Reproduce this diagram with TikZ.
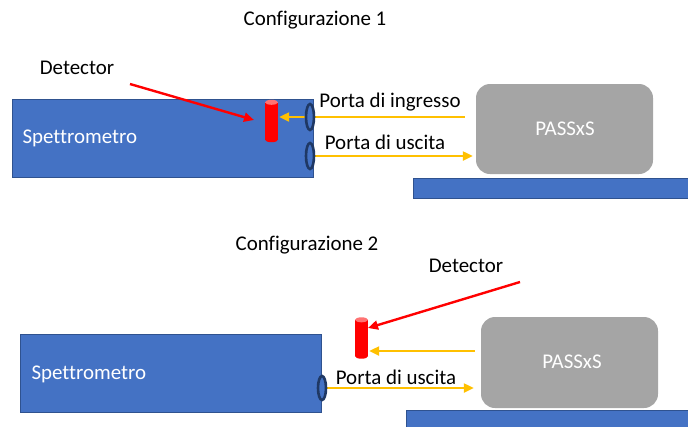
\documentclass[tikz,border=0pt]{standalone}
\usepackage{fontspec}
\setmainfont{Carlito}[Ligatures=NoCommon]
\usepackage{tikz}
\usetikzlibrary{arrows.meta, positioning, shapes.geometric}
\definecolor{specBlue}{HTML}{4472C4}
\definecolor{edgeBlue}{HTML}{2F528F}
\definecolor{portNavy}{HTML}{1F3864}
\definecolor{beamGold}{HTML}{FFC000}
\definecolor{boxGray}{HTML}{A5A5A5}
\definecolor{detRed}{HTML}{FF0000}

\tikzset{
  specbox/.style={draw=edgeBlue, fill=specBlue, inner sep=0, line width=0.8bp},
  passbox/.style={fill=boxGray, rounded corners=14bp, inner sep=0, text=white},
  detbody/.style={fill=detRed, inner sep=0, minimum width=13bp},
  port/.style={ellipse, draw=portNavy, line width=2.6bp, fill=specBlue, inner sep=0, minimum width=8bp},
  beam/.style={beamGold, line width=2.2bp},
  pointer/.style={detRed, line width=2.4bp},
  lbl/.style={font=\fontsize{21}{24}\selectfont}
}

\begin{document}
\begin{tikzpicture}[x=1bp, y=-1bp, >={Triangle[length=10bp, width=9bp]}]
    \useasboundingbox (0,0) rectangle (688,426);

    % Configurazione 1
    \node[lbl] (title1) at (315,20) {Configurazione 1};
    \node[specbox, anchor=north west, minimum width=301bp, minimum height=78bp] (spec1) at (12,99) {};
    \node[lbl, text=white, anchor=west] (spectxt1) at (19,138) {Spettrometro};
    \node[passbox, minimum width=177bp, minimum height=90bp] (pass1) at (564.5,129) {};
    \node[lbl, text=white] (passtxt1) at (565,129) {PASSxS};
    \node[specbox, anchor=north west, minimum width=280bp, minimum height=20bp] (base1) at (413,178) {};

    \node[detbody, minimum height=37bp] (det1) at (271.5,121) {};
    \fill[detRed] (det1.south) ellipse (6.5bp and 2.5bp);
    \fill[detRed!55!white] (det1.north) ellipse (6.5bp and 2.5bp);

    \coordinate (in1) at (310,117);
    \coordinate (out1) at (310,156);
    \draw[beam, ->] ([xshift=-11bp]pass1.west |- in1) -- ([xshift=1bp]det1.east |- in1);
    \draw[beam, ->] (out1) -- ([xshift=-3bp]pass1.west |- out1);
    \node[port, minimum height=26bp] (inport1) at (in1) {};
    \node[port, minimum height=26bp] (outport1) at (out1) {};
    \node[lbl] (inlbl1) at (390,102) {Porta di ingresso};
    \node[lbl] (outlbl1) at (385,142) {Porta di uscita};

    \node[lbl] (detlbl1) at (77,68) {Detector};
    \coordinate (ptr1) at (130,84);
    \coordinate (hit1) at (254,120);
    \draw[pointer, ->] (ptr1) -- (hit1);

    % Configurazione 2
    \node[lbl] (title2) at (307,245) {Configurazione 2};
    \node[specbox, anchor=north west, minimum width=301bp, minimum height=78bp] (spec2) at (20,334) {};
    \node[lbl, text=white, anchor=west] (spectxt2) at (28,374) {Spettrometro};
    \node[passbox, minimum width=177bp, minimum height=91bp] (pass2) at (569.5,362.5) {};
    \node[lbl, text=white] (passtxt2) at (572,362) {PASSxS};
    \node[specbox, anchor=north west, minimum width=290bp, minimum height=20bp] (base2) at (406,410) {};

    \node[detbody, minimum height=36bp] (det2) at (361.5,338) {};
    \fill[detRed] (det2.south) ellipse (6.5bp and 2.5bp);
    \fill[detRed!55!white] (det2.north) ellipse (6.5bp and 2.5bp);

    \coordinate (out2) at (322,388);
    \draw[beam, ->] ([xshift=-6bp]pass2.west |- 0,351) -- ([xshift=1bp]det2.east |- 0,351);
    \draw[beam, ->] (out2) -- ([xshift=-7bp]pass2.west |- out2);
    \node[port, minimum height=24bp] (outport2) at (out2) {};
    \node[lbl] (outlbl2) at (396,377) {Porta di uscita};

    \node[lbl] (detlbl2) at (466,266) {Detector};
    \coordinate (ptr2) at (520,282);
    \coordinate (hit2) at (368,328);
    \draw[pointer, ->] (ptr2) -- (hit2);
\end{tikzpicture}
\end{document}
